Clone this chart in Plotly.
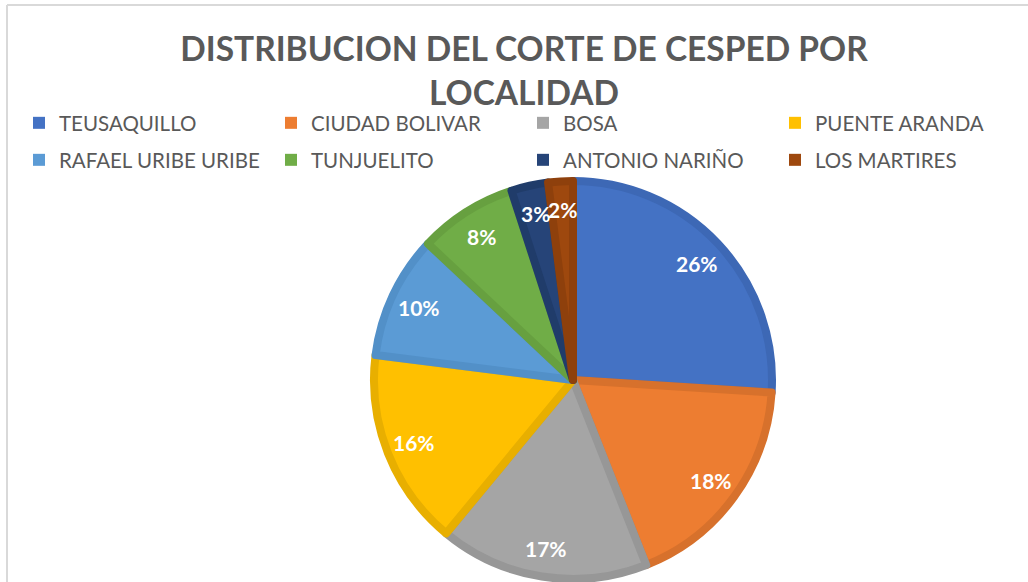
import math
import plotly.graph_objects as go

labels = ["TEUSAQUILLO", "CIUDAD BOLIVAR", "BOSA", "PUENTE ARANDA",
          "RAFAEL URIBE URIBE", "TUNJUELITO", "ANTONIO NARIÑO", "LOS MARTIRES"]
values = [26, 18, 17, 16, 10, 8, 3, 2]
colors = ["#4472C4", "#ED7D31", "#A5A5A5", "#FFC000",
          "#5B9BD5", "#70AD47", "#264478", "#9E480E"]
edge_colors = ["#3D68B5", "#D7712C", "#979797", "#E8AF00",
               "#5290C8", "#67A040", "#203C6A", "#8E400C"]

W, H = 1028, 582
cx, cy, R = 573, 380, 199

fig = go.Figure()
fig.add_trace(go.Pie(
    labels=labels, values=values, sort=False, direction="clockwise", rotation=0,
    marker=dict(colors=colors, line=dict(color=edge_colors, width=8)),
    textinfo="none",
    domain=dict(x=[(cx - R) / W, (cx + R) / W], y=[(H - cy - R) / H, (H - cy + R) / H]),
    showlegend=False,
))

# legend entries (two rows of four, like the original)
for i, (lab, col) in enumerate(zip(labels, colors)):
    fig.add_trace(go.Scatter(
        x=[None], y=[None], mode="markers", name=lab,
        marker=dict(symbol="square", size=12, color=col),
        legend="legend" if i < 4 else "legend2",
    ))

# percentage labels placed along each slice's bisector
total = sum(values)
annotations = []
cum = 0
for v in values:
    mid = (cum + v / 2) / total * 2 * math.pi
    cum += v
    r = 0.84 * 203
    px = cx + r * math.sin(mid)
    py = cy - r * math.cos(mid)
    annotations.append(dict(
        x=px / W, y=1 - py / H, xref="paper", yref="paper",
        xanchor="center", yanchor="middle",
        text=f"{round(v / total * 100)}%", showarrow=False,
        font=dict(family="Lato", size=21, color="white", weight="bold"),
    ))

legend_common = dict(orientation="h", xanchor="left", yanchor="top",
                     entrywidth=207, entrywidthmode="pixels",
                     bgcolor="rgba(0,0,0,0)",
                     font=dict(family="Lato", size=20.5, color="#595959"),
                     traceorder="normal")

fig.update_layout(
    width=W, height=H,
    margin=dict(l=0, r=0, t=0, b=0),
    paper_bgcolor="white", plot_bgcolor="white",
    xaxis=dict(visible=False), yaxis=dict(visible=False),
    annotations=annotations,
    title=dict(text="DISTRIBUCION DEL CORTE DE CESPED POR<br>LOCALIDAD",
               x=524 / W, xanchor="center", xref="paper",
               y=1 - 61 / H, yanchor="top", yref="container",
               font=dict(family="Lato", size=33.5, color="#595959", weight="bold")),
    legend=dict(x=19 / W, y=1 - 103 / H, **legend_common),
    legend2=dict(x=19 / W, y=1 - 140 / H, **legend_common),
    shapes=[
        dict(type="line", xref="paper", yref="paper", x0=7 / W, x1=1, y0=1 - 5 / H, y1=1 - 5 / H,
             line=dict(color="#D9D9D9", width=2)),
        dict(type="line", xref="paper", yref="paper", x0=7 / W, x1=7 / W, y0=0, y1=1 - 5 / H,
             line=dict(color="#D9D9D9", width=2)),
    ],
)

fig.write_html("out.html", config={"displayModeBar": False},
               post_script="document.body.style.margin='0';")
